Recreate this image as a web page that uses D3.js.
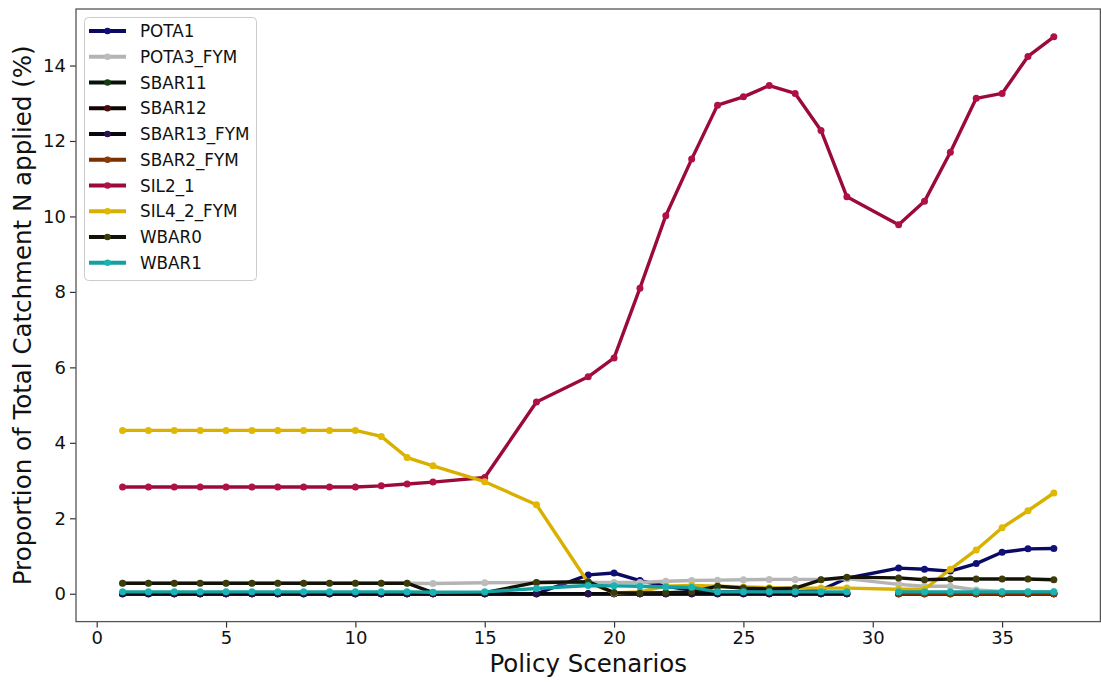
<!DOCTYPE html>
<html>
<head>
<meta charset="utf-8">
<script src="https://cdn.jsdelivr.net/npm/d3@7"></script>
<style>
  html, body { margin: 0; padding: 0; background: #fff; }
  svg { display: block; font-family: "DejaVu Sans", sans-serif; }
</style>
</head>
<body>
<svg id="chart" width="1101" height="682"></svg>
<script>
// Policy scenario numbers; 14, 16 and 18 were not run, 30 has no results
const scenarios = [1,2,3,4,5,6,7,8,9,10,11,12,13,15,17,19,20,21,22,23,24,25,26,27,28,29,30,31,32,33,34,35,36,37];

// Share of total catchment N applied (%) per crop, one value per scenario (null = no value)
const POTA1      = [0,0,0,0,0,0,0,0,0,0,0,0,0,0,0,0.50,0.55,0.35,0.20,0.10,0.05,0.05,0.05,0.05,0.10,0.41,null,0.68,0.65,0.60,0.80,1.10,1.19,1.20];
const POTA3_FYM  = [0.28,0.28,0.28,0.28,0.28,0.28,0.28,0.28,0.28,0.28,0.28,0.28,0.27,0.29,0.30,0.30,0.30,0.30,0.33,0.35,0.36,0.37,0.38,0.38,0.38,0.40,null,0.25,0.20,0.20,0.10,0.06,0.05,0.05];
const SBAR11     = [0,0,0,0,0,0,0,0,0,0,0,0,0,0,0,0,0,0,0,0,0,0,0,0,0,0,null,0,0,0,0,0,0,0];
const SBAR12     = [0,0,0,0,0,0,0,0,0,0,0,0,0,0,0,0,0,0,0,0,0,0,0,0,0,0,null,0,0,0,0,0,0,0];
const SBAR13_FYM = [0,0,0,0,0,0,0,0,0,0,0,0,0,0,0,0,0,0,0,0,0,0,0,0,0,0,null,0,0,0,0,0,0,0];
const SBAR2_FYM  = [null,null,null,null,null,null,null,null,null,null,null,null,null,null,null,null,null,null,null,null,null,null,null,null,null,null,null,0,0,0,0,0,0,0];
const SIL2_1     = [2.83,2.83,2.83,2.83,2.83,2.83,2.83,2.83,2.83,2.83,2.86,2.91,2.96,3.08,5.08,5.75,6.25,8.10,10.02,11.52,12.95,13.17,13.47,13.26,12.28,10.52,null,9.78,10.40,11.70,13.13,13.26,14.24,14.76];
const SIL4_2_FYM = [4.33,4.33,4.33,4.33,4.33,4.33,4.33,4.33,4.33,4.33,4.17,3.61,3.39,2.97,2.36,0.30,0.02,0.05,0.20,0.22,0.20,0.18,0.16,0.15,0.15,0.15,null,0.12,0.12,0.65,1.16,1.75,2.20,2.67];
const WBAR0      = [0.28,0.28,0.28,0.28,0.28,0.28,0.28,0.28,0.28,0.28,0.28,0.28,0.03,0.03,0.30,0.32,0.03,0.02,0.03,0.05,0.20,0.15,0.13,0.15,0.37,0.44,null,0.42,0.37,0.39,0.39,0.39,0.39,0.37];
const WBAR1      = [0.05,0.05,0.05,0.05,0.05,0.05,0.05,0.05,0.05,0.05,0.05,0.05,0.04,0.05,0.14,0.22,0.21,0.20,0.18,0.17,0.05,0.05,0.05,0.05,0.05,0.05,null,0.05,0.05,0.05,0.05,0.05,0.05,0.05];

const seriesNames  = ["POTA1","POTA3_FYM","SBAR11","SBAR12","SBAR13_FYM","SBAR2_FYM","SIL2_1","SIL4_2_FYM","WBAR0","WBAR1"];
const seriesValues = [POTA1,POTA3_FYM,SBAR11,SBAR12,SBAR13_FYM,SBAR2_FYM,SIL2_1,SIL4_2_FYM,WBAR0,WBAR1];
// whether a series is drawn straight across a missing scenario or broken there
const bridgeGaps   = [true,true,false,false,false,false,true,true,true,false];
const lineColors   = ["#0a0a62","#b4b4b4","#061206","#100404","#08070f","#7a3000","#9c0a3c","#d8b000","#121208","#12a0a0"];
const markerColors = ["#10107a","#bcbcbc","#0e4010","#4a0c0c","#2a1050","#8a3a05","#b0104a","#e0b800","#3c3c0a","#18b4b4"];

const xTicks = [0,5,10,15,20,25,30,35];
const yTicks = [0,2,4,6,8,10,12,14];

const svg = d3.select("#chart");
const frame = {left: 76, right: 1100.4, top: 9, bottom: 621.6};

// Axis limits padded by 5% of the data range on each side
const xMin = d3.min(scenarios), xMax = d3.max(scenarios);
const xPad = (xMax - xMin) * 0.05;
const allVals = seriesValues.flat().filter(v => v !== null);
const yMin = d3.min(allVals), yMax = d3.max(allVals);
const yPad = (yMax - yMin) * 0.05;

const x = d3.scaleLinear().domain([xMin - xPad, xMax + xPad]).range([frame.left, frame.right]);
const y = d3.scaleLinear().domain([yMin - yPad, yMax + yPad]).range([frame.bottom, frame.top]);

svg.append("clipPath").attr("id", "clip")
  .append("rect").attr("x", frame.left).attr("y", frame.top)
  .attr("width", frame.right - frame.left).attr("height", frame.bottom - frame.top);

const layer = svg.append("g").attr("clip-path", "url(#clip)");
const line = d3.line().defined(d => d.v !== null).x(d => x(d.s)).y(d => y(d.v));

seriesNames.forEach((name, k) => {
  let pts = seriesValues[k].map((v, i) => ({s: scenarios[i], v}));
  const g = layer.append("g");
  g.append("path").datum(bridgeGaps[k] ? pts.filter(d => d.v !== null) : pts)
    .attr("d", line)
    .attr("fill", "none")
    .attr("stroke", lineColors[k])
    .attr("stroke-width", 3.4)
    .attr("stroke-linejoin", "round");
  g.selectAll("circle").data(pts.filter(d => d.v !== null)).join("circle")
    .attr("cx", d => x(d.s))
    .attr("cy", d => y(d.v))
    .attr("r", 3.5)
    .attr("fill", markerColors[k]);
});

// Axes
const xAxis = d3.axisBottom(x).tickValues(xTicks).tickSize(6).tickPadding(4);
const yAxis = d3.axisLeft(y).tickValues(yTicks).tickSize(6).tickPadding(4);

const gx = svg.append("g").attr("transform", `translate(0,${frame.bottom})`).call(xAxis);
const gy = svg.append("g").attr("transform", `translate(${frame.left},0)`).call(yAxis);
[gx, gy].forEach(g => {
  g.select(".domain").remove();
  g.selectAll("line").attr("stroke", "#333").attr("stroke-width", 1.2);
  g.selectAll("text").attr("font-size", 18).attr("fill", "#111").attr("font-family", "DejaVu Sans");
});

// Frame
svg.append("rect")
  .attr("x", frame.left).attr("y", frame.top)
  .attr("width", frame.right - frame.left).attr("height", frame.bottom - frame.top)
  .attr("fill", "none").attr("stroke", "#555").attr("stroke-width", 1.3);

// Axis titles
svg.append("text")
  .attr("x", (frame.left + frame.right) / 2).attr("y", 672)
  .attr("text-anchor", "middle").attr("font-size", 24.5).attr("fill", "#111")
  .text("Policy Scenarios");
svg.append("text")
  .attr("transform", `translate(31,${(frame.top + frame.bottom) / 2}) rotate(-90)`)
  .attr("text-anchor", "middle").attr("font-size", 24.5).attr("fill", "#111")
  .text("Proportion of Total Catchment N applied (%)");

// Legend
const legend = svg.append("g");
legend.append("rect")
  .attr("x", 84.5).attr("y", 17.5).attr("width", 172).attr("height", 263)
  .attr("rx", 4).attr("fill", "#fff").attr("fill-opacity", 0.85)
  .attr("stroke", "#cccccc").attr("stroke-width", 1);
seriesNames.forEach((name, k) => {
  const cy = 31 + k * 25.75;
  legend.append("line")
    .attr("x1", 89).attr("x2", 126).attr("y1", cy).attr("y2", cy)
    .attr("stroke", lineColors[k]).attr("stroke-width", 4);
  legend.append("circle").attr("cx", 107.5).attr("cy", cy).attr("r", 3.3).attr("fill", markerColors[k]);
  legend.append("text")
    .attr("x", 140).attr("y", cy + 6)
    .attr("font-size", 16.8).attr("fill", "#111")
    .text(name);
});
</script>
</body>
</html>
